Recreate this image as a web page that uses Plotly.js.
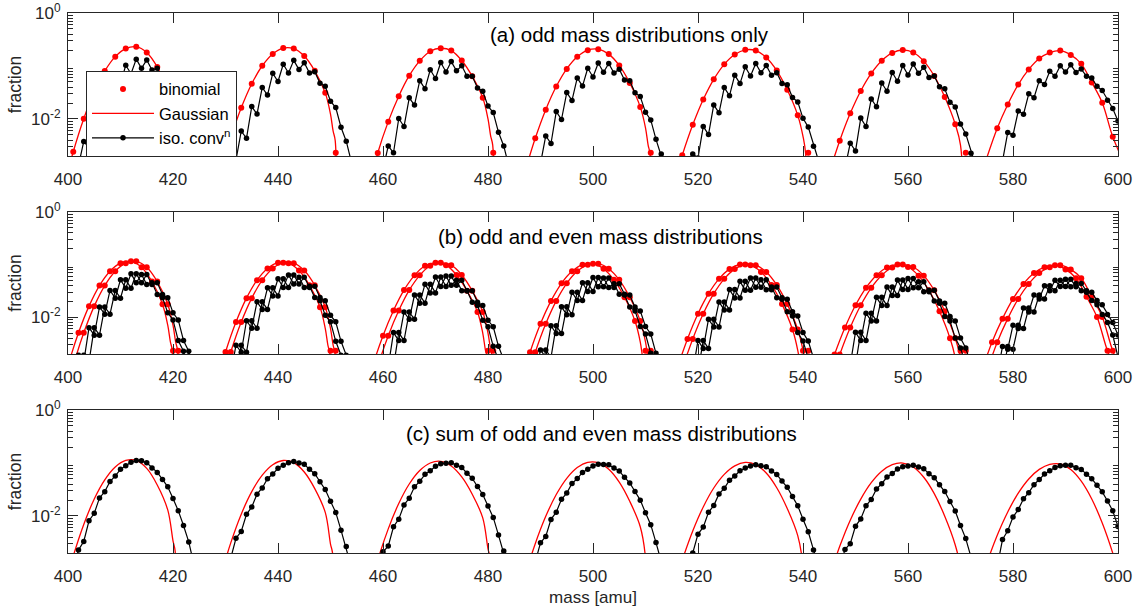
<!DOCTYPE html>
<html>
<head>
<meta charset="utf-8">
<script src="https://cdn.plot.ly/plotly-3.0.1.min.js"></script>
<style>html,body{margin:0;padding:0;background:#fff}#chart{width:1135px;height:609px}</style>
</head>
<body>
<div id="chart"></div>
<script>
// ---------------- tick labels ----------------
const X_TICKS = [400, 420, 440, 460, 480, 500, 520, 540, 560, 580, 600];
const Y_TICKS = [0.01, 1];
const Y_TICK_TEXT = ['10<sup>-2</sup>', '10<sup>0</sup>'];
const Y_MINOR = [0.002,0.003,0.004,0.005,0.006,0.007,0.008,0.009,0.02,0.03,0.04,0.05,0.06,0.07,0.08,0.09,0.2,0.3,0.4,0.5,0.6,0.7,0.8,0.9];

// ---------------- (a) odd mass distributions only ----------------
const A_BINOM_X = [401,403,405,407,409,411,413,415,417,419,421,
 431,433,435,437,439,441,443,445,447,449,451,
 459,461,463,465,467,469,471,473,475,477,479,481,
 489,491,493,495,497,499,501,503,505,507,509,511,
 517,519,521,523,525,527,529,531,533,535,537,539,541,
 547,549,551,553,555,557,559,561,563,565,567,569,571,
 577,579,581,583,585,587,589,591,593,595,597,599];
const A_BINOM_Y = [0.0024,0.0101,0.0325,0.080,0.150,0.213,0.231,0.179,0.0955,0.0353,0.0023,
 0.00436,0.0162,0.0461,0.101,0.169,0.218,0.213,0.154,0.0809,0.0311,0.0023,
 0.00228,0.0089,0.0269,0.0656,0.125,0.190,0.216,0.195,0.127,0.0637,0.0251,0.0023,
 0.00432,0.0150,0.0409,0.0881,0.149,0.199,0.208,0.1675,0.1026,0.0478,0.0169,0.0023,
 0.00206,0.00774,0.0233,0.056,0.1074,0.1644,0.2014,0.1954,0.145,0.0821,0.0355,0.0117,0.0023,
 0.00389,0.01276,0.0338,0.0724,0.1256,0.1763,0.2001,0.1798,0.1233,0.0647,0.0259,0.00794,0.0023,
 0.0067,0.0188,0.0445,0.086,0.138,0.179,0.195,0.162,0.110,0.049,0.0202,0.0046];

const A_GAUSS_X = [399,401,403,405,407,409,411,413,415,417,419,420,420.5,420.9,421,null,
 429,431,433,435,437,439,441,443,445,447,449,450,450.5,450.9,451,null,
 457,459,461,463,465,467,469,471,473,475,477,479,480,480.5,480.9,481,null,
 487,489,491,493,495,497,499,501,503,505,507,509,510,510.5,510.9,511,null,
 515,517,519,521,523,525,527,529,531,533,535,537,539,540,540.5,541,null,
 545,547,549,551,553,555,557,559,561,563,565,567,569,570,571,null,
 573,575,577,579,581,583,585,587,589,591,593,595,597,599,601];
const A_GAUSS_Y = [0.00043,0.0024,0.0101,0.0325,0.080,0.150,0.213,0.231,0.179,0.0955,0.0353,0.0141,0.0068,0.0045,0.00001,null,
 0.00089,0.00436,0.0162,0.0461,0.101,0.169,0.218,0.213,0.154,0.0809,0.0311,0.0123,0.0059,0.0039,0.00001,null,
 0.00037,0.00228,0.0089,0.0269,0.0656,0.125,0.190,0.216,0.195,0.127,0.0637,0.0251,0.010,0.0048,0.0032,0.00001,null,
 0.00098,0.00432,0.0150,0.0409,0.0881,0.149,0.199,0.208,0.1675,0.1026,0.0478,0.0169,0.0068,0.0032,0.0021,0.00001,null,
 0.00044,0.00206,0.00774,0.0233,0.056,0.1074,0.1644,0.2014,0.1954,0.145,0.0821,0.0355,0.0117,0.0047,0.0022,0.00001,null,
 0.00096,0.00389,0.01276,0.0338,0.0724,0.1256,0.1763,0.2001,0.1798,0.1233,0.0647,0.0259,0.00794,0.0032,0.00001,null,
 0.00043,0.00184,0.0067,0.0188,0.0445,0.086,0.138,0.179,0.195,0.162,0.110,0.049,0.0202,0.0046,0.0016];

const A_CONV_X = [401,402,403,404,405,406,407,408,409,410,411,412,413,414,415,416,417,418,419,420,421,422,423,424,425,null,
 431,432,433,434,435,436,437,438,439,440,441,442,443,444,445,446,447,448,449,450,451,452,453,454,455,null,
 459,460,461,462,463,464,465,466,467,468,469,470,471,472,473,474,475,476,477,478,479,480,481,482,483,484,485,null,
 488,489,490,491,492,493,494,495,496,497,498,499,500,501,502,503,504,505,506,507,508,509,510,511,512,513,514,null,
 517,518,519,520,521,522,523,524,525,526,527,528,529,530,531,532,533,534,535,536,537,538,539,540,541,542,543,544,null,
 547,548,549,550,551,552,553,554,555,556,557,558,559,560,561,562,563,564,565,566,567,568,569,570,571,572,573,574,null,
 577,578,579,580,581,582,583,584,585,586,587,588,589,590,591,592,593,594,595,596,597,598,599,600,601];
const A_CONV_Y = [0.0008,0.00132,0.00377,0.00283,0.01265,0.00912,0.0313,0.0229,0.0646,0.0459,0.1033,0.0713,0.1346,0.0904,0.130,0.0836,0.0908,0.0543,0.0471,0.0243,0.01774,0.00723,0.0045,0.0018,0.0006,null,
 0.00151,0.00169,0.0059,0.00432,0.01714,0.01236,0.0393,0.0282,0.0726,0.0509,0.1079,0.0735,0.1276,0.0855,0.1153,0.0738,0.0778,0.0473,0.0413,0.0217,0.01637,0.00697,0.0038,0.00149,0.0006,null,
 0.0007,0.00112,0.0031,0.0023,0.0102,0.0072,0.0251,0.0183,0.0529,0.037,0.085,0.058,0.116,0.077,0.121,0.081,0.101,0.064,0.064,0.0386,0.0334,0.0175,0.0132,0.0056,0.0031,0.00126,0.0005,null,
 0.00059,0.00125,0.00144,0.00478,0.00344,0.0138,0.00977,0.0315,0.0224,0.0596,0.0417,0.0906,0.0618,0.1138,0.076,0.1114,0.0736,0.0867,0.0546,0.0528,0.0313,0.0264,0.01334,0.0096,0.00412,0.00217,0.00097,null,
 0.00056,0.00087,0.00218,0.00184,0.00724,0.00507,0.0184,0.01303,0.0391,0.0275,0.0671,0.0465,0.0962,0.0649,0.1112,0.0743,0.1026,0.0668,0.0748,0.0469,0.0441,0.0254,0.021,0.01028,0.00703,0.00304,0.00154,0.00075,null,
 0.00092,0.00118,0.00349,0.00248,0.01038,0.00719,0.0239,0.017,0.0478,0.0333,0.0753,0.0515,0.1016,0.0676,0.1086,0.0726,0.0946,0.0608,0.0649,0.0406,0.037,0.02075,0.01687,0.00802,0.00522,0.00226,0.0011,0.00058,null,
 0.0006,0.0016,0.00557,0.00495,0.0141,0.01225,0.0299,0.0251,0.0528,0.0446,0.0794,0.0637,0.1009,0.0769,0.1052,0.0757,0.0875,0.0637,0.0594,0.0414,0.0344,0.0226,0.0158,0.00918,0.0035];

// ---------------- (b) odd and even mass distributions ----------------
// odd-mass series use the (a) masses; even-mass series sit one amu lower with the same fractions
const B_BINOM_ODD_X = [401,403,405,407,409,411,413,415,417,419,421,
 431,433,435,437,439,441,443,445,447,449,451,
 459,461,463,465,467,469,471,473,475,477,479,481,
 489,491,493,495,497,499,501,503,505,507,509,511,
 517,519,521,523,525,527,529,531,533,535,537,539,541,
 547,549,551,553,555,557,559,561,563,565,567,569,571,
 577,579,581,583,585,587,589,591,593,595,597,599];
const B_BINOM_EVEN_X = [400,402,404,406,408,410,412,414,416,418,420,
 430,432,434,436,438,440,442,444,446,448,450,
 458,460,462,464,466,468,470,472,474,476,478,480,
 488,490,492,494,496,498,500,502,504,506,508,510,
 516,518,520,522,524,526,528,530,532,534,536,538,540,
 546,548,550,552,554,556,558,560,562,564,566,568,570,
 576,578,580,582,584,586,588,590,592,594,596,598];
const B_BINOM_Y = [0.0012,0.00505,0.01625,0.040,0.075,0.1065,0.1155,0.0895,0.0478,0.01765,0.0023,
 0.00218,0.0081,0.02305,0.0505,0.0845,0.109,0.1065,0.077,0.04045,0.01555,0.0023,
 0.00114,0.00445,0.01345,0.0328,0.0625,0.095,0.108,0.0975,0.0635,0.03185,0.01255,0.0023,
 0.00216,0.0075,0.02045,0.04405,0.0745,0.0995,0.104,0.08375,0.0513,0.0239,0.00845,0.0023,
 0.00103,0.00387,0.01165,0.028,0.0537,0.0822,0.1007,0.0977,0.0725,0.04105,0.01775,0.00585,0.0023,
 0.00195,0.00638,0.0169,0.0362,0.0628,0.0882,0.1,0.0899,0.0617,0.0324,0.01295,0.00397,0.0023,
 0.00335,0.0094,0.02225,0.043,0.069,0.0895,0.0975,0.081,0.055,0.0245,0.0101,0.0023];

const B_GAUSS_ODD_X = [399,401,403,405,407,409,411,413,415,417,419,420,420.5,420.9,421,null,
 429,431,433,435,437,439,441,443,445,447,449,450,450.5,450.9,451,null,
 457,459,461,463,465,467,469,471,473,475,477,479,480,480.5,480.9,481,null,
 487,489,491,493,495,497,499,501,503,505,507,509,510,510.5,510.9,511,null,
 515,517,519,521,523,525,527,529,531,533,535,537,539,540,540.5,541,null,
 545,547,549,551,553,555,557,559,561,563,565,567,569,570,571,null,
 573,575,577,579,581,583,585,587,589,591,593,595,597,599,601];
const B_GAUSS_EVEN_X = [398,400,402,404,406,408,410,412,414,416,418,419,419.5,419.9,420,null,
 428,430,432,434,436,438,440,442,444,446,448,449,449.5,449.9,450,null,
 456,458,460,462,464,466,468,470,472,474,476,478,479,479.5,479.9,480,null,
 486,488,490,492,494,496,498,500,502,504,506,508,509,509.5,509.9,510,null,
 514,516,518,520,522,524,526,528,530,532,534,536,538,539,539.5,540,null,
 544,546,548,550,552,554,556,558,560,562,564,566,568,569,570,null,
 572,574,576,578,580,582,584,586,588,590,592,594,596,598,600];
const B_GAUSS_Y = [0.000215,0.0012,0.00505,0.01625,0.040,0.075,0.1065,0.1155,0.0895,0.0478,0.01765,0.00705,0.0034,0.00225,0.00001,null,
 0.000445,0.00218,0.0081,0.02305,0.0505,0.0845,0.109,0.1065,0.077,0.04045,0.01555,0.00615,0.00295,0.00195,0.00001,null,
 0.000185,0.00114,0.00445,0.01345,0.0328,0.0625,0.095,0.108,0.0975,0.0635,0.03185,0.01255,0.005,0.0024,0.0016,0.00001,null,
 0.00049,0.00216,0.0075,0.02045,0.04405,0.0745,0.0995,0.104,0.08375,0.0513,0.0239,0.00845,0.0034,0.0016,0.00105,0.00001,null,
 0.00022,0.00103,0.00387,0.01165,0.028,0.0537,0.0822,0.1007,0.0977,0.0725,0.04105,0.01775,0.00585,0.00235,0.0011,0.00001,null,
 0.00048,0.00195,0.00638,0.0169,0.0362,0.0628,0.0882,0.1,0.0899,0.0617,0.0324,0.01295,0.00397,0.0016,0.00001,null,
 0.000215,0.00092,0.00335,0.0094,0.02225,0.043,0.069,0.0895,0.0975,0.081,0.055,0.0245,0.0101,0.0023,0.0008];

const B_CONV_ODD_X = [401,402,403,404,405,406,407,408,409,410,411,412,413,414,415,416,417,418,419,420,421,422,423,424,425,null,
 431,432,433,434,435,436,437,438,439,440,441,442,443,444,445,446,447,448,449,450,451,452,453,454,455,null,
 459,460,461,462,463,464,465,466,467,468,469,470,471,472,473,474,475,476,477,478,479,480,481,482,483,484,485,null,
 488,489,490,491,492,493,494,495,496,497,498,499,500,501,502,503,504,505,506,507,508,509,510,511,512,513,514,null,
 517,518,519,520,521,522,523,524,525,526,527,528,529,530,531,532,533,534,535,536,537,538,539,540,541,542,543,544,null,
 547,548,549,550,551,552,553,554,555,556,557,558,559,560,561,562,563,564,565,566,567,568,569,570,571,572,573,574,null,
 577,578,579,580,581,582,583,584,585,586,587,588,589,590,591,592,593,594,595,596,597,598,599,600,601];
const B_CONV_EVEN_X = [400,401,402,403,404,405,406,407,408,409,410,411,412,413,414,415,416,417,418,419,420,421,422,423,424,null,
 430,431,432,433,434,435,436,437,438,439,440,441,442,443,444,445,446,447,448,449,450,451,452,453,454,null,
 458,459,460,461,462,463,464,465,466,467,468,469,470,471,472,473,474,475,476,477,478,479,480,481,482,483,484,null,
 487,488,489,490,491,492,493,494,495,496,497,498,499,500,501,502,503,504,505,506,507,508,509,510,511,512,513,null,
 516,517,518,519,520,521,522,523,524,525,526,527,528,529,530,531,532,533,534,535,536,537,538,539,540,541,542,543,null,
 546,547,548,549,550,551,552,553,554,555,556,557,558,559,560,561,562,563,564,565,566,567,568,569,570,571,572,573,null,
 576,577,578,579,580,581,582,583,584,585,586,587,588,589,590,591,592,593,594,595,596,597,598,599,600];
const B_CONV_Y = [0.0004,0.00066,0.001885,0.001415,0.006325,0.00456,0.01565,0.01145,0.0323,0.02295,0.05165,0.03565,0.0673,0.0452,0.065,0.0418,0.0454,0.02715,0.02355,0.01215,0.00887,0.003615,0.00225,0.0009,0.0003,null,
 0.000755,0.000845,0.00295,0.00216,0.00857,0.00618,0.01965,0.0141,0.0363,0.02545,0.05395,0.03675,0.0638,0.04275,0.05765,0.0369,0.0389,0.02365,0.02065,0.01085,0.008185,0.003485,0.0019,0.000745,0.0003,null,
 0.00035,0.00056,0.00155,0.00115,0.0051,0.0036,0.01255,0.00915,0.02645,0.0185,0.0425,0.029,0.058,0.0385,0.0605,0.0405,0.0505,0.032,0.032,0.0193,0.0167,0.00875,0.0066,0.0028,0.00155,0.00063,0.00025,null,
 0.000295,0.000625,0.00072,0.00239,0.00172,0.0069,0.004885,0.01575,0.0112,0.0298,0.02085,0.0453,0.0309,0.0569,0.038,0.0557,0.0368,0.04335,0.0273,0.0264,0.01565,0.0132,0.00667,0.0048,0.00206,0.001085,0.000485,null,
 0.00028,0.000435,0.00109,0.00092,0.00362,0.002535,0.0092,0.006515,0.01955,0.01375,0.03355,0.02325,0.0481,0.03245,0.0556,0.03715,0.0513,0.0334,0.0374,0.02345,0.02205,0.0127,0.0105,0.00514,0.003515,0.00152,0.00077,0.000375,null,
 0.00046,0.00059,0.001745,0.00124,0.00519,0.003595,0.01195,0.0085,0.0239,0.01665,0.03765,0.02575,0.0508,0.0338,0.0543,0.0363,0.0473,0.0304,0.03245,0.0203,0.0185,0.010375,0.008435,0.00401,0.00261,0.00113,0.00055,0.00029,null,
 0.0003,0.0008,0.002785,0.002475,0.00705,0.006125,0.01495,0.01255,0.0264,0.0223,0.0397,0.03185,0.05045,0.03845,0.0526,0.03785,0.04375,0.03185,0.0297,0.0207,0.0172,0.0113,0.0079,0.00459,0.00175];

// ---------------- (c) sum of odd and even mass distributions ----------------
const C_GAUSS_X = [399,401,403,405,407,409,411,413,415,417,419,420,420.4,420.5,null,
 429,431,433,435,437,439,441,443,445,447,449,450,450.4,450.5,null,
 457,459,461,463,465,467,469,471,473,475,477,479,480,480.4,480.5,null,
 487,489,491,493,495,497,499,501,503,505,507,509,510,510.5,null,
 515,517,519,521,523,525,527,529,531,533,535,537,539,540,540.5,null,
 545,547,549,551,553,555,557,559,561,563,565,567,569,570,570.5,null,
 573,575,577,579,581,583,585,587,589,591,593,595,597,599,601];
const C_GAUSS_Y = [0.00034,0.00175,0.00692,0.0209,0.048,0.0839,0.1117,0.1122,0.0791,0.0385,0.013,0.0034,0.0022,0.00001,null,
 0.00068,0.0031,0.0108,0.0288,0.0589,0.0925,0.1114,0.1013,0.0675,0.0328,0.01167,0.00295,0.00195,0.00001,null,
 0.00029,0.00147,0.00571,0.0172,0.0401,0.0721,0.1,0.1074,0.0879,0.0546,0.0257,0.0092,0.0024,0.0016,0.00001,null,
 0.00072,0.003,0.00984,0.0254,0.0514,0.082,0.1029,0.1012,0.076,0.0435,0.0189,0.00627,0.00162,0.00001,null,
 0.00033,0.00146,0.00521,0.0148,0.0337,0.061,0.0884,0.1023,0.093,0.0646,0.0341,0.0138,0.00425,0.0011,0.00001,null,
 0.0007,0.00267,0.0083,0.0208,0.0424,0.0698,0.0929,0.0997,0.0839,0.0538,0.0264,0.0099,0.00283,0.001,0.00001,null,
 0.00031,0.00128,0.00432,0.0119,0.0269,0.0499,0.0757,0.0943,0.0957,0.0752,0.0453,0.0209,0.00736,0.00199,0.00041];

const C_CONV_X = [401,402,403,404,405,406,407,408,409,410,411,412,413,414,415,416,417,418,419,420,421,422,423,424,null,
 431,432,433,434,435,436,437,438,439,440,441,442,443,444,445,446,447,448,449,450,451,452,453,454,null,
 459,460,461,462,463,464,465,466,467,468,469,470,471,472,473,474,475,476,477,478,479,480,481,482,483,484,null,
 488,489,490,491,492,493,494,495,496,497,498,499,500,501,502,503,504,505,506,507,508,509,510,511,512,513,514,null,
 517,518,519,520,521,522,523,524,525,526,527,528,529,530,531,532,533,534,535,536,537,538,539,540,541,542,543,null,
 547,548,549,550,551,552,553,554,555,556,557,558,559,560,561,562,563,564,565,566,567,568,569,570,571,572,573,null,
 577,578,579,580,581,582,583,584,585,586,587,588,589,590,591,592,593,594,595,596,597,598,599,600];
const C_CONV_Y = [0.001,0.00229,0.00331,0.00813,0.01122,0.0219,0.0288,0.0447,0.0569,0.0759,0.0891,0.1035,0.1114,0.1099,0.1009,0.080,0.0664,0.049,0.0355,0.0214,0.0126,0.00661,0.00324,0.0012,null,
 0.0016,0.0038,0.00511,0.01073,0.01475,0.0258,0.0338,0.0504,0.0618,0.0794,0.0907,0.1006,0.1066,0.1004,0.0946,0.0758,0.0626,0.0443,0.0315,0.019,0.01167,0.00539,0.00265,0.00105,null,
 0.00091,0.00211,0.0027,0.00625,0.0087,0.01615,0.0217,0.0356,0.045,0.061,0.0715,0.087,0.0965,0.099,0.101,0.091,0.0825,0.064,0.0513,0.036,0.02545,0.01535,0.0094,0.00435,0.00218,0.00088,null,
 0.00092,0.00135,0.00311,0.00411,0.00862,0.0118,0.0206,0.027,0.041,0.0507,0.0662,0.0762,0.0878,0.0949,0.0937,0.0925,0.0802,0.0707,0.0537,0.042,0.0289,0.0199,0.01147,0.00686,0.00315,0.00157,0.0006,null,
 0.00072,0.00153,0.00201,0.00454,0.00616,0.01174,0.0157,0.0261,0.0333,0.0473,0.0568,0.0714,0.0806,0.0881,0.0928,0.0885,0.0847,0.0708,0.0609,0.0455,0.0348,0.0232,0.0156,0.00866,0.00504,0.00229,0.00115,null,
 0.00105,0.00234,0.00299,0.00643,0.00879,0.01555,0.02045,0.0324,0.0406,0.0543,0.0634,0.0766,0.0846,0.0881,0.0906,0.0836,0.0777,0.0629,0.0528,0.0388,0.0289,0.0188,0.01245,0.00662,0.00374,0.00168,0.00084,null,
 0.0011,0.00359,0.00526,0.00953,0.0132,0.0211,0.0275,0.039,0.0487,0.062,0.0716,0.0823,0.0889,0.091,0.0905,0.0816,0.0756,0.0616,0.0504,0.0379,0.0285,0.0192,0.0125,0.00634];

const SERIES_NAMES = ['binomial', 'Gaussian', 'iso. conv<sup>n</sup>'];
const PANEL_LABELS = ['(a) odd mass distributions only', '(b) odd and even mass distributions', '(c) sum of odd and even mass distributions'];

// ---------------- styling ----------------
const FONT = 'Liberation Sans, Arial, Helvetica, sans-serif';
const AX = '#262626';
const RED = '#ff0000';
const BLK = '#000000';

function gaussTrace(x, y, xa, ya, show) {
  return {x, y, xaxis: xa, yaxis: ya, type: 'scatter', mode: 'lines', name: SERIES_NAMES[1],
    showlegend: !!show, legendrank: 2, connectgaps: false, hoverinfo: 'skip',
    line: {color: RED, width: 1.3, shape: 'spline', smoothing: 1}};
}
function binomTrace(x, y, xa, ya, show) {
  return {x, y, xaxis: xa, yaxis: ya, type: 'scatter', mode: 'markers', name: SERIES_NAMES[0],
    showlegend: !!show, legendrank: 1, hoverinfo: 'skip',
    marker: {color: RED, size: 6, line: {width: 0}}};
}
function convTrace(x, y, xa, ya, show) {
  return {x, y, xaxis: xa, yaxis: ya, type: 'scatter', mode: 'lines+markers', name: SERIES_NAMES[2],
    showlegend: !!show, legendrank: 3, connectgaps: false, hoverinfo: 'skip',
    line: {color: BLK, width: 1.2}, marker: {color: BLK, size: 5.5, line: {width: 0}}};
}

const traces = [
  gaussTrace(A_GAUSS_X, A_GAUSS_Y, 'x', 'y', true),
  binomTrace(A_BINOM_X, A_BINOM_Y, 'x', 'y', true),
  convTrace(A_CONV_X, A_CONV_Y, 'x', 'y', true),

  gaussTrace(B_GAUSS_ODD_X, B_GAUSS_Y, 'x2', 'y2'),
  gaussTrace(B_GAUSS_EVEN_X, B_GAUSS_Y, 'x2', 'y2'),
  binomTrace(B_BINOM_ODD_X, B_BINOM_Y, 'x2', 'y2'),
  binomTrace(B_BINOM_EVEN_X, B_BINOM_Y, 'x2', 'y2'),
  convTrace(B_CONV_ODD_X, B_CONV_Y, 'x2', 'y2'),
  convTrace(B_CONV_EVEN_X, B_CONV_Y, 'x2', 'y2'),

  gaussTrace(C_GAUSS_X, C_GAUSS_Y, 'x3', 'y3'),
  convTrace(C_CONV_X, C_CONV_Y, 'x3', 'y3')
];

function xAxis(anchor, withTitle) {
  const ax = {anchor, domain: [0, 1], range: [400, 600], tickmode: 'array', tickvals: X_TICKS,
    ticks: 'inside', ticklen: 10, tickwidth: 1, tickcolor: AX,
    showline: true, linecolor: AX, linewidth: 1, mirror: 'ticks',
    showgrid: false, zeroline: false, ticklabelstandoff: 8,
    tickfont: {family: FONT, size: 17, color: AX}};
  if (withTitle) ax.title = {text: 'mass [amu]', font: {family: FONT, size: 17, color: AX}, standoff: 5};
  return ax;
}
function yAxis(anchor, domain) {
  return {anchor, domain, type: 'log', range: [-2.699, 0], tickmode: 'array',
    tickvals: Y_TICKS, ticktext: Y_TICK_TEXT,
    ticks: 'inside', ticklen: 10, tickwidth: 1, tickcolor: AX,
    minor: {tickmode: 'array', tickvals: Y_MINOR, ticks: 'inside', ticklen: 5, tickwidth: 1, tickcolor: AX, showgrid: false},
    showline: true, linecolor: AX, linewidth: 1, mirror: 'ticks',
    showgrid: false, zeroline: false, ticklabelstandoff: 3,
    tickfont: {family: FONT, size: 17, color: AX},
    title: {text: 'fraction', font: {family: FONT, size: 17.5, color: AX}, standoff: 4}};
}

const LABEL_FONT = {family: FONT, size: 20.5, color: '#000'};
const layout = {
  width: 1135, height: 609,
  margin: {l: 68, r: 17, t: 13, b: 56},
  paper_bgcolor: '#ffffff', plot_bgcolor: '#ffffff',
  font: {family: FONT, color: AX},
  xaxis: xAxis('y', false),
  yaxis: yAxis('x', [0.7352, 1]),
  xaxis2: xAxis('y2', false),
  yaxis2: yAxis('x2', [0.3685, 0.6315]),
  xaxis3: xAxis('y3', true),
  yaxis3: yAxis('x3', [0, 0.2648]),
  legend: {x: 0.01714, y: 0.8932, xanchor: 'left', yanchor: 'top',
    bgcolor: '#ffffff', bordercolor: AX, borderwidth: 1,
    font: {family: FONT, size: 16.5, color: '#000'}, itemwidth: 62, tracegroupgap: 0},
  annotations: [
    {text: PANEL_LABELS[0], xref: 'x', yref: 'paper', x: 480, y: 0.9593, xanchor: 'left', yanchor: 'middle', showarrow: false, font: LABEL_FONT},
    {text: PANEL_LABELS[1], xref: 'x2', yref: 'paper', x: 470, y: 0.587, xanchor: 'left', yanchor: 'middle', showarrow: false, font: LABEL_FONT},
    {text: PANEL_LABELS[2], xref: 'x3', yref: 'paper', x: 464, y: 0.2204, xanchor: 'left', yanchor: 'middle', showarrow: false, font: LABEL_FONT}
  ]
};

Plotly.newPlot('chart', traces, layout, {staticPlot: true, displayModeBar: false});
</script>
</body>
</html>
